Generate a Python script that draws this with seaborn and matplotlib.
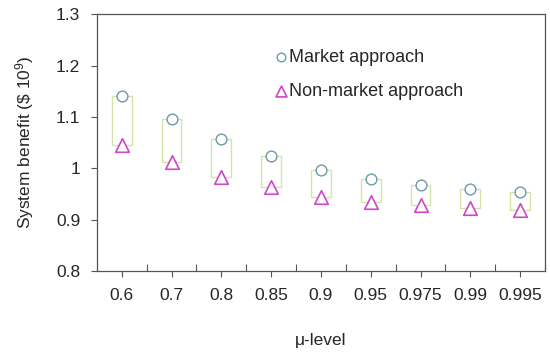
import matplotlib
matplotlib.use('Agg')
import matplotlib.pyplot as plt
from matplotlib.ticker import FixedLocator
import pandas as pd
import seaborn as sns

# Data
mu_levels = ['0.6', '0.7', '0.8', '0.85', '0.9', '0.95', '0.975', '0.99', '0.995']
market = [1.140, 1.096, 1.057, 1.023, 0.996, 0.979, 0.967, 0.960, 0.954]
non_market = [1.046, 1.012, 0.983, 0.963, 0.945, 0.934, 0.928, 0.922, 0.919]

sns.set_theme(style='white')
plt.rcParams['font.family'] = ['Liberation Sans', 'DejaVu Sans']
plt.rcParams['mathtext.default'] = 'regular'

df = pd.DataFrame({'mu': mu_levels, 'market': market, 'non_market': non_market})

fig = plt.figure(figsize=(5.5, 3.53), dpi=100)
ax = fig.add_axes([0.176, 0.232, 0.815, 0.728])

# floating boxes between the two approaches
ax.bar(df['mu'], df['market'] - df['non_market'], bottom=df['non_market'],
       width=0.4, facecolor='none', edgecolor='#d6e3a6', linewidth=1.0, zorder=1)

sns.scatterplot(data=df, x='mu', y='market', ax=ax, marker='o', s=60,
                color='white', edgecolor='#6f9aa6', linewidth=1.0,
                label='Market approach', zorder=3)
sns.scatterplot(data=df, x='mu', y='non_market', ax=ax, marker='^', s=95,
                color='white', edgecolor='#d046c8', linewidth=1.2,
                label='Non-market approach', zorder=3)

ax.set_xlim(-0.5, len(mu_levels) - 0.5)
ax.set_ylim(0.8, 1.3)
ax.set_yticks([0.8, 0.9, 1.0, 1.1, 1.2, 1.3])
ax.set_yticklabels(['0.8', '0.9', '1', '1.1', '1.2', '1.3'])

ax.xaxis.set_minor_locator(FixedLocator([i + 0.5 for i in range(len(mu_levels))]))
ax.tick_params(axis='x', which='major', direction='out', length=4, width=0.8,
               color='#555555', labelsize=12.5, pad=8, bottom=True)
ax.tick_params(axis='x', which='minor', direction='in', length=5, width=0.8,
               color='#555555', bottom=True)
ax.tick_params(axis='y', direction='out', length=4, width=0.8, color='#555555',
               labelsize=12.5, pad=8, left=True)

for sp in ax.spines.values():
    sp.set_color('#555555')
    sp.set_linewidth(0.9)

ax.set_xlabel('\u03bc-level', fontsize=12.5, labelpad=22)
ax.set_ylabel('System benefit (\\$ 10$^{9}$)', fontsize=12.5, labelpad=14)

ax.legend(loc='upper left', bbox_to_anchor=(0.375, 0.9), frameon=False,
          fontsize=13, handletextpad=0.05, handlelength=0.8, labelspacing=0.95,
          borderpad=0, markerscale=0.8)

fig.savefig('out.png', dpi=100)
